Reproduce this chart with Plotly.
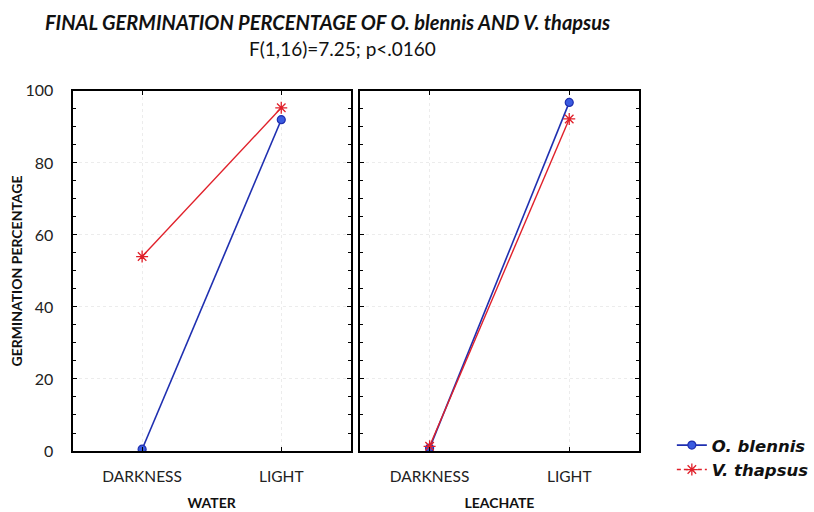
import plotly.graph_objects as go

categories = ["DARKNESS", "LIGHT"]
panels = ["WATER", "LEACHATE"]
o_blennis_water = [0.5, 92.0]
v_thapsus_water = [54.0, 95.3]
o_blennis_leachate = [0.8, 96.8]
v_thapsus_leachate = [1.3, 92.2]
y_ticks = [0, 20, 40, 60, 80, 100]

BLUE = "#1f2fb0"
BLUE_FILL = "#3a5be0"
RED = "#e0202a"
FONT = "Lato"

fig = go.Figure()

def add_panel(xa, ya, ob, vt):
    fig.add_trace(go.Scatter(
        x=categories, y=ob, xaxis=xa, yaxis=ya, mode="lines+markers",
        line=dict(color=BLUE, width=1.6),
        marker=dict(symbol="circle", size=8, color=BLUE_FILL, line=dict(color=BLUE, width=1.2)),
        showlegend=False))
    fig.add_trace(go.Scatter(
        x=categories, y=vt, xaxis=xa, yaxis=ya, mode="lines+markers",
        line=dict(color=RED, width=1.4),
        marker=dict(symbol="asterisk-open", size=10, color=RED, line=dict(color=RED, width=1.3)),
        showlegend=False))

add_panel("x", "y", o_blennis_water, v_thapsus_water)
add_panel("x2", "y2", o_blennis_leachate, v_thapsus_leachate)

# legend entries
fig.add_trace(go.Scatter(
    x=[None], y=[None], mode="lines+markers", name="O. blennis",
    line=dict(color=BLUE, width=1.6),
    marker=dict(symbol="circle", size=8, color=BLUE_FILL, line=dict(color=BLUE, width=1.2))))
fig.add_trace(go.Scatter(
    x=[None], y=[None], mode="lines+markers", name="V. thapsus",
    line=dict(color=RED, width=1.4, dash="4px,3px"),
    marker=dict(symbol="asterisk-open", size=10, color=RED, line=dict(color=RED, width=1.3))))

W, H = 814, 512
xd1 = [73 / W, 353 / W]
xd2 = [362 / W, 643 / W]
yd = [1 - 458 / H, 1 - 84 / H]

common_x = dict(
    type="category", range=[-0.5, 1.5], showline=True, linecolor="black", linewidth=2,
    mirror="allticks", ticks="inside", ticklen=4, tickcolor="black",
    showgrid=True, gridcolor="#ececec", griddash="dot", zeroline=False,
    tickfont=dict(family=FONT, size=15.5, color="#222"), ticklabelstandoff=10,
    title_font=dict(family=FONT, size=14, color="#111"), title_standoff=15,
)
common_y = dict(
    range=[0, 100], tickvals=y_ticks, showline=True, linecolor="black", linewidth=2,
    mirror="allticks", ticks="inside", ticklen=4, tickcolor="black",
    minor=dict(ticks="inside", dtick=5, ticklen=3, tickcolor="black", showgrid=False),
    showgrid=True, gridcolor="#ececec", griddash="dot", zeroline=False,
    tickfont=dict(family=FONT, size=16, color="#222"), ticklabelstandoff=14,
)

fig.update_layout(
    width=W, height=H, margin=dict(l=0, r=0, t=0, b=0),
    paper_bgcolor="white", plot_bgcolor="white",
    xaxis=dict(domain=xd1, anchor="y", title=dict(text="<b>WATER</b>"), **common_x),
    xaxis2=dict(domain=xd2, anchor="y2", title=dict(text="<b>LEACHATE</b>"), **common_x),
    yaxis=dict(domain=yd, anchor="x",
               title=dict(text="<b>GERMINATION PERCENTAGE</b>", font=dict(family=FONT, size=14, color="#111"), standoff=0),
               **common_y),
    yaxis2=dict(domain=yd, anchor="x2", showticklabels=False, **common_y),
    legend=dict(x=676 / W, y=1 - 434 / H, xanchor="left", yanchor="top",
                font=dict(family="DejaVu Sans", size=16.5, color="#111", style="italic", weight="bold"),
                bgcolor="rgba(0,0,0,0)", tracegroupgap=0),
    showlegend=True,
)

fig.add_annotation(
    text="<b><i>FINAL GERMINATION PERCENTAGE OF O. blennis AND V. thapsus</i></b>",
    x=330 / W, y=1 - 12 / H, xref="paper", yref="paper", xanchor="center", yanchor="middle",
    showarrow=False, font=dict(family=FONT, size=20, color="#111"))
fig.add_annotation(
    text="F(1,16)=7.25; p<.0160",
    x=345 / W, y=1 - 40 / H, xref="paper", yref="paper", xanchor="center", yanchor="middle",
    showarrow=False, font=dict(family=FONT, size=19, color="#111"))

fig.write_html("out.html")
